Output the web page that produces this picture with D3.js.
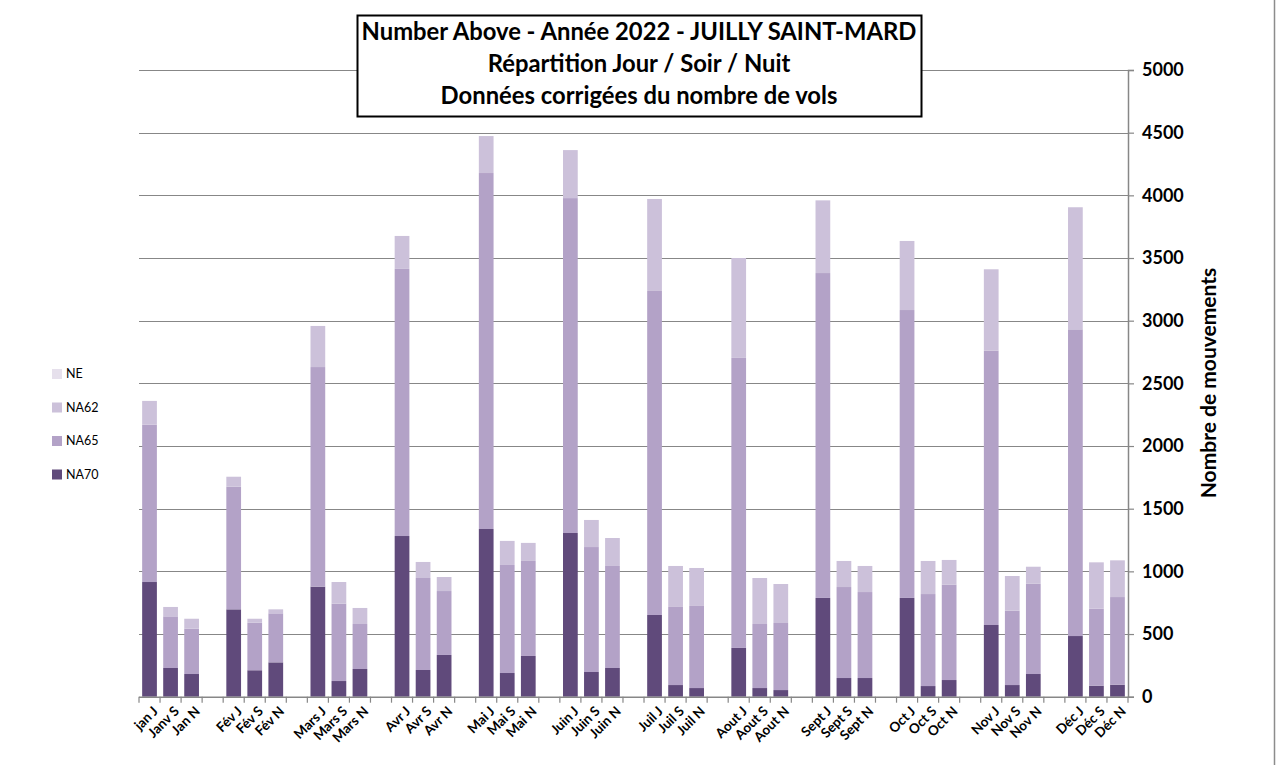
<!DOCTYPE html>
<html><head><meta charset="utf-8">
<script src="https://cdn.jsdelivr.net/npm/d3@7"></script>
<style>html,body{margin:0;padding:0;background:#fff;}svg{display:block;}</style>
</head><body>
<svg id="c" width="1277" height="765"></svg>
<script>
// Categories (empty strings are the spacer slots between months)
const categories = ["jan J","Janv S","Jan N","",
  "Fév J","Fév S","Fév N","",
  "Mars J","Mars S","Mars N","",
  "Avr J","Avr S","Avr N","",
  "Mai J","Mai S","Mai N","",
  "Juin J","Juin S","Juin N","",
  "Juil J","Juil S","Juil N","",
  "Aout J","Aout S","Aout N","",
  "Sept J","Sept S","Sept N","",
  "Oct J","Oct S","Oct N","",
  "Nov J","Nov S","Nov N","",
  "Déc J","Déc S","Déc N"];
const NA70 = [915,229,181,null, 697,211,274,null, 878,125,221,null, 1282,213,333,null,
  1338,189,325,null, 1306,197,229,null, 652,93,69,null, 389,69,53,null,
  788,149,149,null, 788,85,133,null, 572,93,181,null, 484,88,96];
const NA65 = [1255,412,362,null, 978,379,391,null, 1752,617,359,null, 2131,734,510,null,
  2840,862,758,null, 2672,997,814,null, 2585,623,655,null, 2314,511,535,null,
  2592,726,686,null, 2297,734,760,null, 2188,593,720,null, 2447,614,699];
const NA62 = [190,75,79,null, 80,32,32,null, 328,173,128,null, 263,128,112,null,
  295,192,144,null, 383,216,223,null, 734,327,303,null, 797,367,311,null,
  580,208,208,null, 551,264,198,null, 650,277,136,null, 974,370,293];
const NE = [0,0,0,null, 0,0,0,null, 0,0,0,null, 0,0,0,null,
  0,0,0,null, 0,0,0,null, 0,0,0,null, 0,0,0,null,
  0,0,0,null, 0,0,0,null, 0,0,0,null, 0,0,0];
const seriesNames = ["NA70","NA65","NA62","NE"];
const seriesColors = ["#604a7b","#b3a2c7","#ccc1da","#e6e0ec"];
const yTicks = [0,500,1000,1500,2000,2500,3000,3500,4000,4500,5000];
const titleLines = ["Number Above - Année 2022 - JUILLY SAINT-MARD","Répartition Jour / Soir / Nuit","Données corrigées du nombre de vols"];
const yTitle = "Nombre de mouvements";

const svg = d3.select("#c");
const FONT = "Lato, 'Open Sans', sans-serif";
const pLeft = 139, pRight = 1128, pTop = 70, pBottom = 696.7;

const rows = categories.map((c,i)=>({i, cat:c, NA70:NA70[i]||0, NA65:NA65[i]||0, NA62:NA62[i]||0, NE:NE[i]||0}));
const x = d3.scaleBand().domain(d3.range(categories.length)).range([pLeft,pRight]).paddingInner(0.3).paddingOuter(0.15);
const y = d3.scaleLinear().domain([0,5000]).range([pBottom, pTop]);

// right border of chart area
svg.append("line").attr("x1",1274.5).attr("x2",1274.5).attr("y1",0).attr("y2",765).attr("stroke","#8c8c8c").attr("stroke-width",1.5);

// gridlines
svg.append("g").selectAll("line").data(yTicks.filter(d=>d>0)).join("line")
  .attr("x1",pLeft).attr("x2",pRight).attr("y1",d=>Math.round(y(d))+0.5).attr("y2",d=>Math.round(y(d))+0.5)
  .attr("stroke","#878787").attr("stroke-width",1.2);

// stacked bars
const stack = d3.stack().keys(seriesNames);
const stacked = stack(rows);
svg.append("g").selectAll("g").data(stacked).join("g")
  .attr("fill",(d,k)=>seriesColors[k])
  .selectAll("rect").data(d=>d.filter(p=>categories[p.data.i] !== "")).join("rect")
  .attr("x",p=>x(p.data.i)).attr("width",x.bandwidth())
  .attr("y",p=>y(p[1])).attr("height",p=>Math.max(0,y(p[0])-y(p[1])));

// right y axis
const yAxis = d3.axisRight(y).tickValues(yTicks).tickSize(6).tickFormat(d3.format("d"));
const ga = svg.append("g").attr("transform",`translate(${pRight},0)`).call(yAxis);
ga.select(".domain").attr("stroke","#878787").attr("stroke-width",1.5);
ga.selectAll(".tick line").attr("stroke","#878787").attr("stroke-width",1.2);
ga.selectAll(".tick text").attr("x",14).attr("font-family",FONT).attr("font-weight","bold").attr("font-size","18px").attr("fill","#000");

// x axis (ticks on category boundaries)
const xLine = svg.append("g");
xLine.append("line").attr("x1",pLeft).attr("x2",pRight).attr("y1",pBottom+0.5).attr("y2",pBottom+0.5).attr("stroke","#878787").attr("stroke-width",1.5);
const step = x.step();
const bounds = d3.range(categories.length+1).map(k=>x(0) - x.paddingOuter()*step + k*step);
xLine.selectAll("line.t").data(bounds).join("line").attr("class","t")
  .attr("x1",d=>d).attr("x2",d=>d).attr("y1",pBottom).attr("y2",pBottom+6).attr("stroke","#878787").attr("stroke-width",1.2);
svg.append("g").selectAll("text").data(rows.filter(r=>r.cat!=="")).join("text")
  .attr("transform",r=>`translate(${x(r.i)+x.bandwidth()/2+6},${pBottom+12}) rotate(-45)`)
  .attr("text-anchor","end").attr("dy","0.35em")
  .attr("font-family",FONT).attr("font-weight","bold").attr("font-size","13.5px").attr("fill","#000")
  .text(r=>r.cat);

// y title
svg.append("text").attr("transform","translate(1216,383) rotate(-90)")
  .attr("text-anchor","middle").attr("font-family",FONT).attr("font-weight","bold").attr("font-size","21px").attr("fill","#000")
  .text(yTitle);

// title box
svg.append("rect").attr("x",357.5).attr("y",15.5).attr("width",564).attr("height",101).attr("fill","#fff").attr("stroke","#000").attr("stroke-width",2);
svg.append("g").selectAll("text").data(titleLines).join("text")
  .attr("x",639).attr("y",(d,i)=>40+i*32).attr("text-anchor","middle")
  .attr("font-family",FONT).attr("font-weight","bold").attr("font-size","23.8px").attr("fill","#000")
  .text(d=>d);

// legend (reverse order: NE on top)
const legendItems = seriesNames.map((n,k)=>({n,c:seriesColors[k]})).reverse();
const lg = svg.append("g").selectAll("g").data(legendItems).join("g")
  .attr("transform",(d,i)=>`translate(52,${374+i*33.5})`);
lg.append("rect").attr("x",0).attr("y",-5).attr("width",10).attr("height",10).attr("fill",d=>d.c);
lg.append("text").attr("x",14).attr("y",0).attr("dy","0.35em").attr("font-family",FONT).attr("font-size","12.5px").attr("fill","#000").text(d=>d.n);
</script>
</body></html>
